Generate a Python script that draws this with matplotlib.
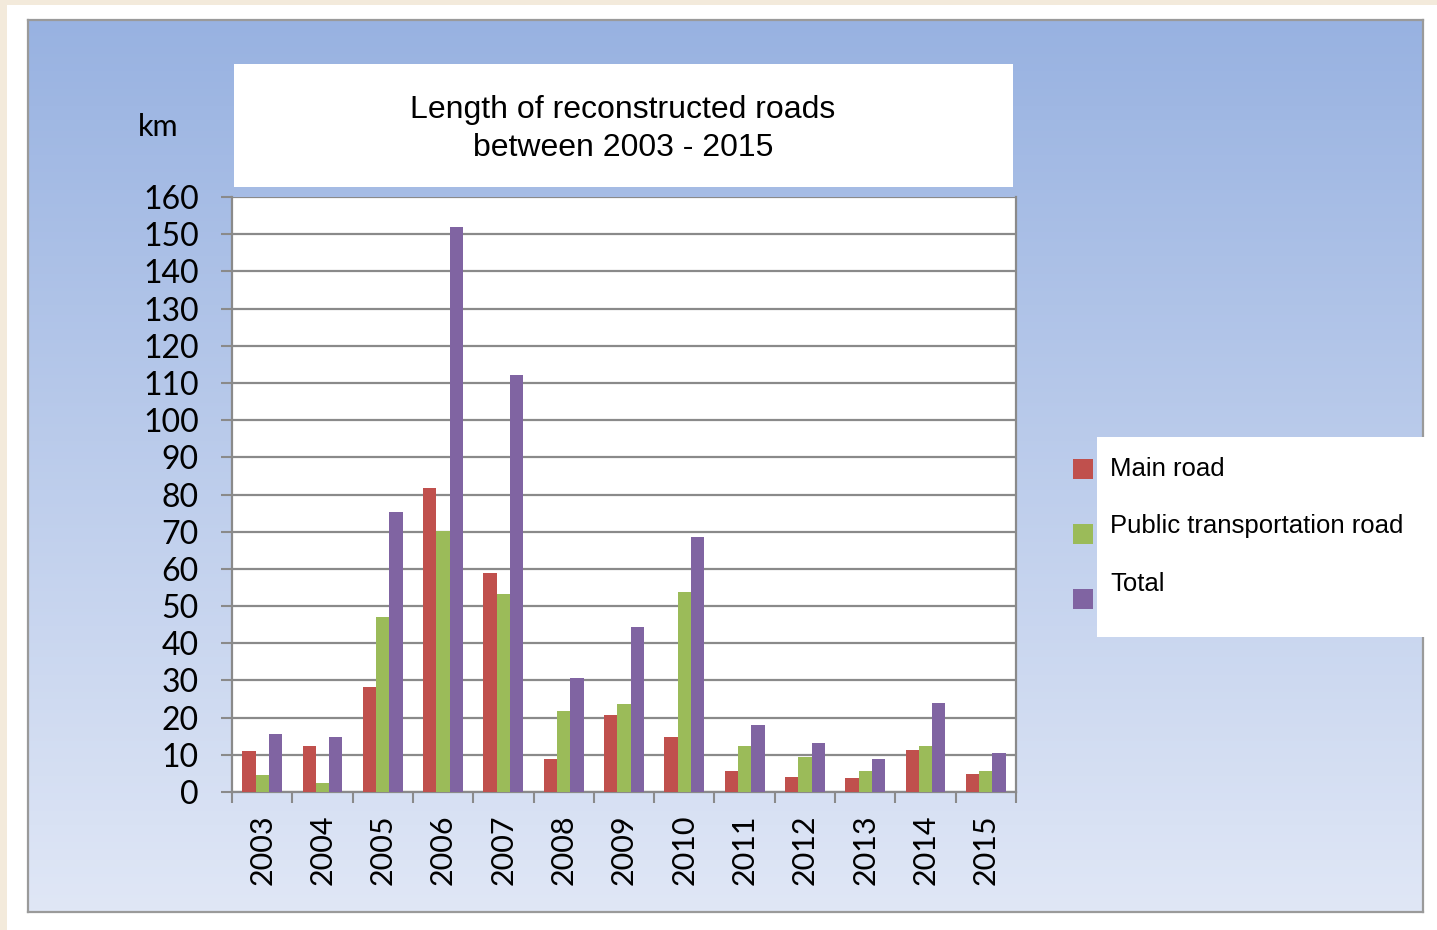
import matplotlib.pyplot as plt
import numpy as np
from matplotlib.patches import Rectangle

years = ['2003', '2004', '2005', '2006', '2007', '2008', '2009',
         '2010', '2011', '2012', '2013', '2014', '2015']
main_road = [11.1, 12.5, 28.2, 81.7, 58.9, 9.0, 20.7, 14.8, 5.6, 3.9, 3.7, 11.3, 4.8]
public_road = [4.5, 2.3, 47.0, 70.3, 53.2, 21.9, 23.6, 53.7, 12.5, 9.5, 5.6, 12.5, 5.7]
total = [15.6, 14.9, 75.3, 152.0, 112.1, 30.7, 44.3, 68.5, 18.0, 13.3, 9.0, 23.9, 10.5]
series_names = ['Main road', 'Public transportation road', 'Total']
series_colors = ['#c0504d', '#9bbb59', '#8064a2']

W, H = 1437, 930


def fx(x):
    return x / W


def fy(y):
    return 1 - y / H


fig = plt.figure(figsize=(W / 100, H / 100), dpi=100)
fig.patch.set_facecolor('#f3eadb')

# white page behind everything
fig.patches.append(Rectangle((fx(7), 0), 1 - fx(7), fy(5), transform=fig.transFigure,
                             facecolor='white', edgecolor='none', zorder=-5))

# blue gradient chart area
bg = fig.add_axes([fx(28), fy(912), fx(1423) - fx(28), fy(20) - fy(912)], zorder=0)
top_c = np.array([152, 178, 225]) / 255
bot_c = np.array([224, 231, 246]) / 255
t = np.linspace(0, 1, 256)[:, None]
grad = top_c[None, :] * (1 - t) + bot_c[None, :] * t
bg.imshow(grad[:, None, :], aspect='auto', extent=[0, 1, 0, 1])
bg.set_xticks([])
bg.set_yticks([])
for s in bg.spines.values():
    s.set_color('#9a9a9a')
    s.set_linewidth(1.6)

# title box
fig.patches.append(Rectangle((fx(234), fy(187)), fx(1013) - fx(234), fy(64) - fy(187),
                             transform=fig.transFigure, facecolor='white',
                             edgecolor='none', zorder=1))
fig.text(fx(623), fy(129), 'Length of reconstructed roads\nbetween 2003 - 2015',
         ha='center', va='center', fontsize=23, family='Liberation Sans',
         linespacing=1.35, zorder=3)
fig.text(fx(158), fy(127), 'km', ha='center', va='center', fontsize=22,
         family='Lato', zorder=3)

# main axes
ax = fig.add_axes([fx(232), fy(792), fx(1016) - fx(232), fy(197) - fy(792)], zorder=2)
x = np.arange(len(years))
bw = 0.22
for i, (vals, col) in enumerate(zip([main_road, public_road, total], series_colors)):
    ax.bar(x + (i - 1) * bw, vals, width=bw, color=col, edgecolor='none',
           zorder=3, label=series_names[i])

ax.set_xlim(-0.5, len(years) - 0.5)
ax.set_ylim(0, 160)
ax.set_yticks(range(0, 161, 10))
ax.yaxis.grid(True, color='#8a8a8a', linewidth=1.6)
ax.set_axisbelow(True)
ax.tick_params(axis='y', labelsize=23, length=8, width=1.5, color='#8a8a8a', pad=16)
for lab in ax.get_yticklabels():
    lab.set_family('Lato')

ax.set_xticks(np.arange(len(years) + 1) - 0.5, minor=False)
ax.set_xticklabels([])
ax.set_xticks(x, minor=True)
ax.set_xticklabels(years, minor=True, rotation=90, fontsize=22, family='Lato')
ax.tick_params(axis='x', which='major', length=8, width=1.5, color='#8a8a8a')
ax.tick_params(axis='x', which='minor', length=0, pad=16)
for lab in ax.get_xticklabels(minor=True):
    lab.set_va('top')

for s in ax.spines.values():
    s.set_color('#8a8a8a')
    s.set_linewidth(1.6)
ax.spines['top'].set_visible(False)

# legend box
fig.patches.append(Rectangle((fx(1097), fy(637)), 1 - fx(1097), fy(437) - fy(637),
                             transform=fig.transFigure, facecolor='white',
                             edgecolor='none', zorder=1))
marker_y = [469, 534, 599]
label_y = [469, 526, 584]
for name, col, my, ly in zip(series_names, series_colors, marker_y, label_y):
    fig.patches.append(Rectangle((fx(1073), fy(my + 10)), fx(20), 20 / H,
                                 transform=fig.transFigure, facecolor=col,
                                 edgecolor='none', zorder=3))
    fig.text(fx(1110), fy(ly), name, ha='left', va='center', fontsize=18.5,
             family='Liberation Sans', zorder=3)

fig.savefig('out.png', dpi=100, facecolor=fig.get_facecolor())
